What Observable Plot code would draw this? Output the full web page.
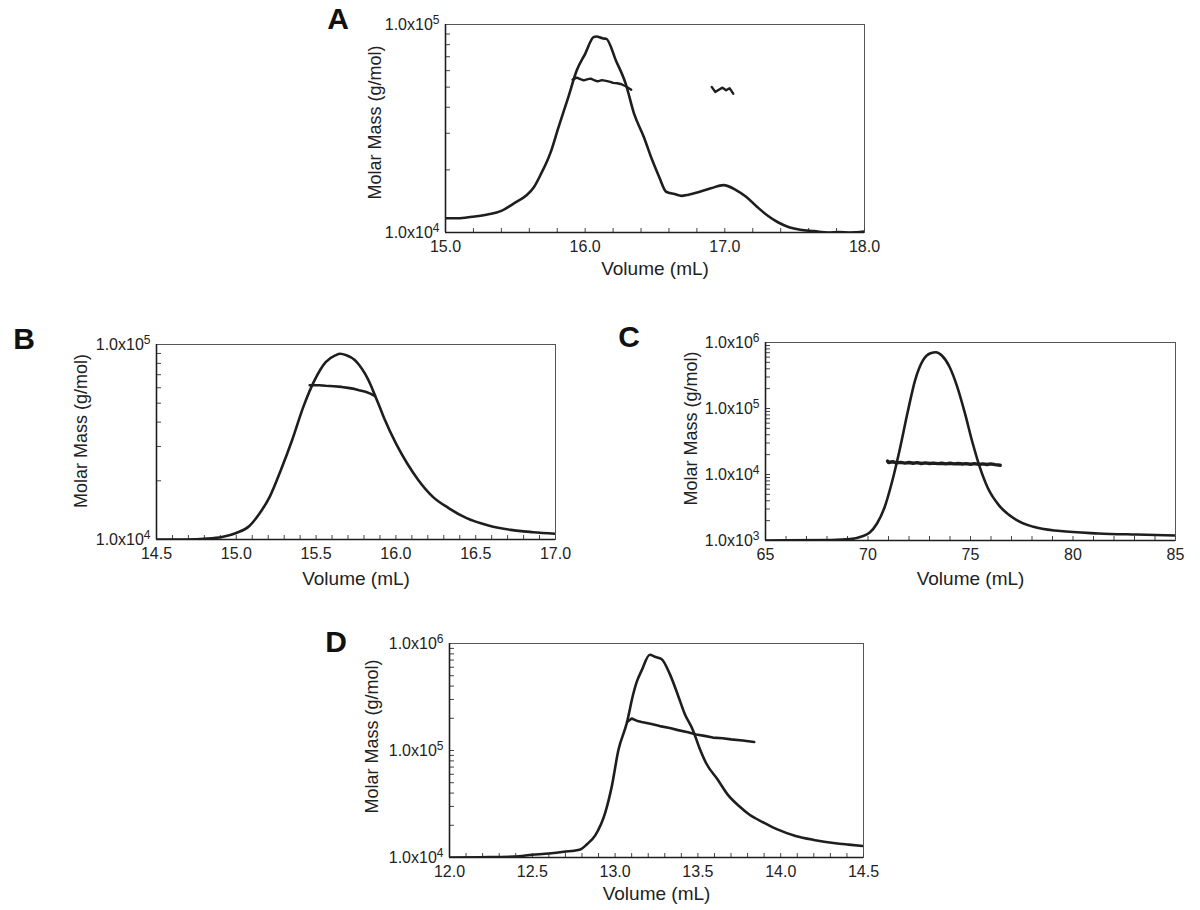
<!DOCTYPE html>
<html><head><meta charset="utf-8">
<script src="https://cdn.jsdelivr.net/npm/d3@7"></script>
<script src="https://cdn.jsdelivr.net/npm/@observablehq/plot@0.6"></script>
<style>
body{margin:0;background:#fff;}
#wrap{position:relative;width:1200px;height:910px;font-family:"Liberation Sans",Arial,sans-serif;overflow:hidden;}
.panel{position:absolute;}
.letter{position:absolute;font-weight:bold;font-size:30px;line-height:30px;color:#111;transform:translate(-50%,-50%);}
</style></head><body><div id="wrap"></div>
<script>
// ---------- labels ----------
const panelLetters = ["A", "B", "C", "D"];
const xLabel = "Volume (mL)";
const yLabel = "Molar Mass (g/mol)";

// ---------- Panel A ----------
const aTraceVol = [15.0,15.09,15.19,15.30,15.40,15.49,15.58,15.63,15.68,15.75,15.81,15.88,15.94,16.00,16.06,16.08,16.13,16.15,16.22,16.29,16.35,16.42,16.48,16.53,16.58,16.64,16.69,16.74,16.82,16.90,16.99,17.08,17.15,17.23,17.31,17.38,17.46,17.54,17.64,17.74,17.82,17.9,18.0];
const aTraceVal = [1.17e4,1.17e4,1.19e4,1.22e4,1.27e4,1.38e4,1.51e4,1.64e4,1.89e4,2.40e4,3.22e4,4.49e4,6.02e4,7.23e4,8.69e4,8.75e4,8.56e4,8.54e4,6.72e4,5.20e4,3.73e4,2.88e4,2.23e4,1.85e4,1.57e4,1.53e4,1.50e4,1.52e4,1.57e4,1.63e4,1.69e4,1.60e4,1.49e4,1.33e4,1.20e4,1.12e4,1.06e4,1.03e4,1.015e4,1.0e4,1.005e4,1.0e4,1.01e4];
const aMassVol = [15.91,15.94,15.97,15.99,16.02,16.04,16.07,16.09,16.12,16.15,16.18,16.20,16.23,16.26,16.29,16.33];
const aMassVal = [5.43e4,5.55e4,5.45e4,5.39e4,5.46e4,5.49e4,5.38e4,5.33e4,5.40e4,5.36e4,5.30e4,5.24e4,5.22e4,5.16e4,5.05e4,4.86e4];
const aMass2Vol = [16.906,16.931,16.957,16.983,17.009,17.034,17.06];
const aMass2Val = [5.01e4,4.74e4,4.86e4,4.97e4,4.83e4,4.94e4,4.65e4];

// ---------- Panel B ----------
const bTraceVol = [14.5,14.68,14.82,14.91,15.0,15.08,15.14,15.21,15.28,15.35,15.42,15.49,15.56,15.62,15.65,15.69,15.74,15.77,15.81,15.84,15.87,15.90,15.93,16.0,16.07,16.14,16.23,16.33,16.44,16.58,16.72,16.86,17.0];
const bTraceVal = [1.0e4,1.0e4,1.01e4,1.03e4,1.08e4,1.17e4,1.34e4,1.66e4,2.28e4,3.24e4,4.79e4,6.55e4,8.13e4,8.79e4,8.96e4,8.80e4,8.35e4,7.85e4,7.0e4,6.25e4,5.45e4,4.75e4,4.12e4,3.11e4,2.46e4,2.02e4,1.66e4,1.45e4,1.29e4,1.18e4,1.12e4,1.09e4,1.07e4];
const bMassVol = [15.46,15.52,15.56,15.61,15.66,15.70,15.74,15.77,15.81,15.84,15.87];
const bMassVal = [6.18e4,6.18e4,6.14e4,6.11e4,6.06e4,5.99e4,5.92e4,5.82e4,5.72e4,5.60e4,5.43e4];

// ---------- Panel C ----------
const cTraceVol = [65,68.2,69.13,69.69,70.07,70.44,70.81,71.18,71.56,71.93,72.30,72.68,73.05,73.32,73.60,73.98,74.35,74.72,75.09,75.47,75.84,76.40,77.14,78.07,79.38,81.24,83.10,85];
const cTraceVal = [1.0e3,1.02e3,1.05e3,1.15e3,1.31e3,1.81e3,3.19e3,7.9e3,2.48e4,8.67e4,2.70e5,5.35e5,6.87e5,7.11e5,6.34e5,4.26e5,2.15e5,8.67e4,3.11e4,1.25e4,6.31e3,3.38e3,2.14e3,1.61e3,1.39e3,1.28e3,1.23e3,1.19e3];
const cMassVol = [70.95,71.0,71.2,71.4,71.6,71.8,72.0,72.2,72.4,72.6,72.8,73.0,73.2,73.4,73.6,73.8,74.0,74.2,74.4,74.6,74.8,75.0,75.2,75.4,75.6,75.8,76.0,76.2,76.45];
const cMassVal = [1.60e4,1.52e4,1.56e4,1.50e4,1.53e4,1.49e4,1.52e4,1.48e4,1.51e4,1.47e4,1.50e4,1.47e4,1.49e4,1.46e4,1.48e4,1.45e4,1.48e4,1.45e4,1.47e4,1.44e4,1.46e4,1.43e4,1.46e4,1.42e4,1.45e4,1.42e4,1.45e4,1.41e4,1.38e4];

// ---------- Panel D ----------
const dTraceVol = [12.0,12.19,12.39,12.50,12.60,12.69,12.79,12.83,12.88,12.94,12.98,13.02,13.07,13.11,13.13,13.16,13.21,13.24,13.28,13.33,13.38,13.42,13.47,13.51,13.55,13.62,13.68,13.75,13.81,13.90,13.98,14.09,14.20,14.33,14.41,14.5];
const dTraceVal = [1.0e4,1.007e4,1.02e4,1.06e4,1.09e4,1.13e4,1.19e4,1.33e4,1.61e4,2.61e4,4.62e4,1.01e5,1.79e5,3.39e5,4.35e5,5.58e5,7.85e5,7.52e5,7.16e5,5.20e5,3.27e5,2.21e5,1.55e5,1.05e5,7.60e4,5.33e4,3.87e4,3.01e4,2.52e4,2.11e4,1.83e4,1.59e4,1.46e4,1.36e4,1.32e4,1.28e4];
const dMassVol = [13.073,13.10,13.13,13.16,13.22,13.27,13.33,13.38,13.44,13.49,13.54,13.59,13.65,13.70,13.77,13.84];
const dMassVal = [1.85e5,1.99e5,1.90e5,1.85e5,1.77e5,1.69e5,1.62e5,1.55e5,1.48e5,1.41e5,1.37e5,1.32e5,1.30e5,1.27e5,1.24e5,1.20e5];

// ---------- tick labels ----------
const aXTicks = [15.0, 16.0, 17.0, 18.0];
const bXTicks = [14.5, 15.0, 15.5, 16.0, 16.5, 17.0];
const cXTicks = [65, 70, 75, 80, 85];
const dXTicks = [12.0, 12.5, 13.0, 13.5, 14.0, 14.5];
const aYTicks = [1e4, 1e5];
const bYTicks = [1e4, 1e5];
const cYTicks = [1e3, 1e4, 1e5, 1e6];
const dYTicks = [1e4, 1e5, 1e6];

const zip = (xs, ys) => xs.map((x, i) => ({x, y: ys[i]}));
const supDigits = "⁰¹²³⁴⁵⁶⁷⁸⁹";
const fmtY = v => "1.0x10" + String(Math.round(Math.log10(v))).replace(/\d/g, d => supDigits[d]);

const panels = [
  {letter: panelLetters[0], left: 340, top: 0, width: 540, height: 280, mL: 105, mR: 16, mT: 24, mB: 48,
   xDom: [15, 18], yDom: [1e4, 1e5], xTicks: aXTicks, yTicks: aYTicks, xStep: 0.2, xFmt: d => d.toFixed(1),
   trace: zip(aTraceVol, aTraceVal), mass: [zip(aMassVol, aMassVal), zip(aMass2Vol, aMass2Val)], massW: 2.4,
   ylDx: -70, ylDy: -6, xlDy: 36, letterPos: [338, 19]},
  {letter: panelLetters[1], left: 0, top: 300, width: 580, height: 300, mL: 156, mR: 25, mT: 44, mB: 61,
   xDom: [14.5, 17], yDom: [1e4, 1e5], xTicks: bXTicks, yTicks: bYTicks, xStep: 0.1, xFmt: d => d.toFixed(1),
   trace: zip(bTraceVol, bTraceVal), mass: [zip(bMassVol, bMassVal)], massW: 2.6,
   ylDx: -75, ylDy: -11, xlDy: 39, letterPos: [24, 339]},
  {letter: panelLetters[2], left: 600, top: 300, width: 600, height: 300, mL: 165, mR: 25, mT: 42, mB: 60,
   xDom: [65, 85], yDom: [1e3, 1e6], xTicks: cXTicks, yTicks: cYTicks, xStep: 1, xFmt: d => d.toFixed(0),
   trace: zip(cTraceVol, cTraceVal), mass: [zip(cMassVol, cMassVal)], massW: 3.4,
   ylDx: -74, ylDy: -13, xlDy: 38, letterPos: [629, 337]},
  {letter: panelLetters[3], left: 340, top: 600, width: 560, height: 310, mL: 109, mR: 37, mT: 43, mB: 53,
   xDom: [12, 14.5], yDom: [1e4, 1e6], xTicks: dXTicks, yTicks: dYTicks, xStep: 0.1, xFmt: d => d.toFixed(1),
   trace: zip(dTraceVol, dTraceVal), mass: [zip(dMassVol, dMassVal)], massW: 2.6,
   ylDx: -77, ylDy: -14, xlDy: 36, letterPos: [336, 642]}
];

const wrap = document.getElementById("wrap");
const ink = "#1e1e1e";

for (const p of panels) {
  const W = p.width - p.mL - p.mR;
  const H = p.height - p.mT - p.mB;
  const xMinor = d3.range(p.xDom[0], p.xDom[1] + p.xStep / 2, p.xStep).map(v => +v.toFixed(4));
  const yMinor = [];
  for (let e = Math.round(Math.log10(p.yDom[0])); e < Math.round(Math.log10(p.yDom[1])); e++)
    for (let k = 1; k <= 9; k++) yMinor.push(k * Math.pow(10, e));
  const marks = [
    Plot.frame({stroke: "#555", strokeWidth: 1}),
    Plot.tickX(xMinor, {x: d => d, insetTop: H - 4, stroke: "#444", strokeWidth: 1}),
    Plot.tickY(yMinor, {y: d => d, insetRight: W - 5, stroke: "#444", strokeWidth: 1}),
    Plot.ruleY([p.yDom[0]], {stroke: ink, strokeWidth: 1.6}),
    Plot.ruleX([p.xDom[0]], {stroke: ink, strokeWidth: 1.6}),
    Plot.axisX(p.xTicks, {tickSize: 0, tickPadding: 8, tickFormat: p.xFmt, fontSize: 16, fill: "#222", label: null}),
    Plot.axisY(p.yTicks, {tickSize: 0, tickPadding: 6, tickFormat: fmtY, fontSize: 16, fill: "#222", label: null}),
    Plot.line(p.trace, {x: "x", y: "y", stroke: ink, strokeWidth: 2.6, clip: true, curve: "monotone-x"}),
    ...p.mass.map(m => Plot.line(m, {x: "x", y: "y", stroke: ink, strokeWidth: p.massW, clip: true})),
    Plot.text([xLabel], {text: d => d, frameAnchor: "bottom", textAnchor: "middle", lineAnchor: "middle", dy: p.xlDy, fontSize: 19, fill: "#222"}),
    Plot.text([yLabel], {text: d => d, frameAnchor: "left", textAnchor: "middle", lineAnchor: "middle", dx: p.ylDx, dy: p.ylDy, rotate: -90, fontSize: 18, fill: "#222"})
  ];
  const chart = Plot.plot({
    width: p.width, height: p.height,
    marginLeft: p.mL, marginRight: p.mR, marginTop: p.mT, marginBottom: p.mB,
    x: {domain: p.xDom},
    y: {type: "log", domain: p.yDom},
    style: {fontFamily: "'Liberation Sans', Arial, sans-serif", background: "white", overflow: "visible"},
    marks
  });
  chart.classList.add("panel");
  chart.style.left = p.left + "px";
  chart.style.top = p.top + "px";
  // render exponents as raised superscripts
  chart.querySelectorAll('g[aria-label="y-axis tick label"] text').forEach(t => {
    const s = t.textContent;
    const m = s.match(/^(.*?)([⁰¹²³⁴⁵⁶⁷⁸⁹]+)$/);
    if (!m) return;
    const exp = m[2].replace(/./g, c => supDigits.indexOf(c));
    t.textContent = "";
    const ns = "http://www.w3.org/2000/svg";
    const a = document.createElementNS(ns, "tspan"); a.textContent = m[1];
    const b = document.createElementNS(ns, "tspan"); b.textContent = exp;
    b.setAttribute("dy", "-0.45em"); b.setAttribute("font-size", "0.75em");
    t.appendChild(a); t.appendChild(b);
  });
  wrap.appendChild(chart);
  const L = document.createElement("div");
  L.className = "letter";
  L.textContent = p.letter;
  L.style.left = p.letterPos[0] + "px";
  L.style.top = p.letterPos[1] + "px";
  wrap.appendChild(L);
}
</script>
</body></html>
